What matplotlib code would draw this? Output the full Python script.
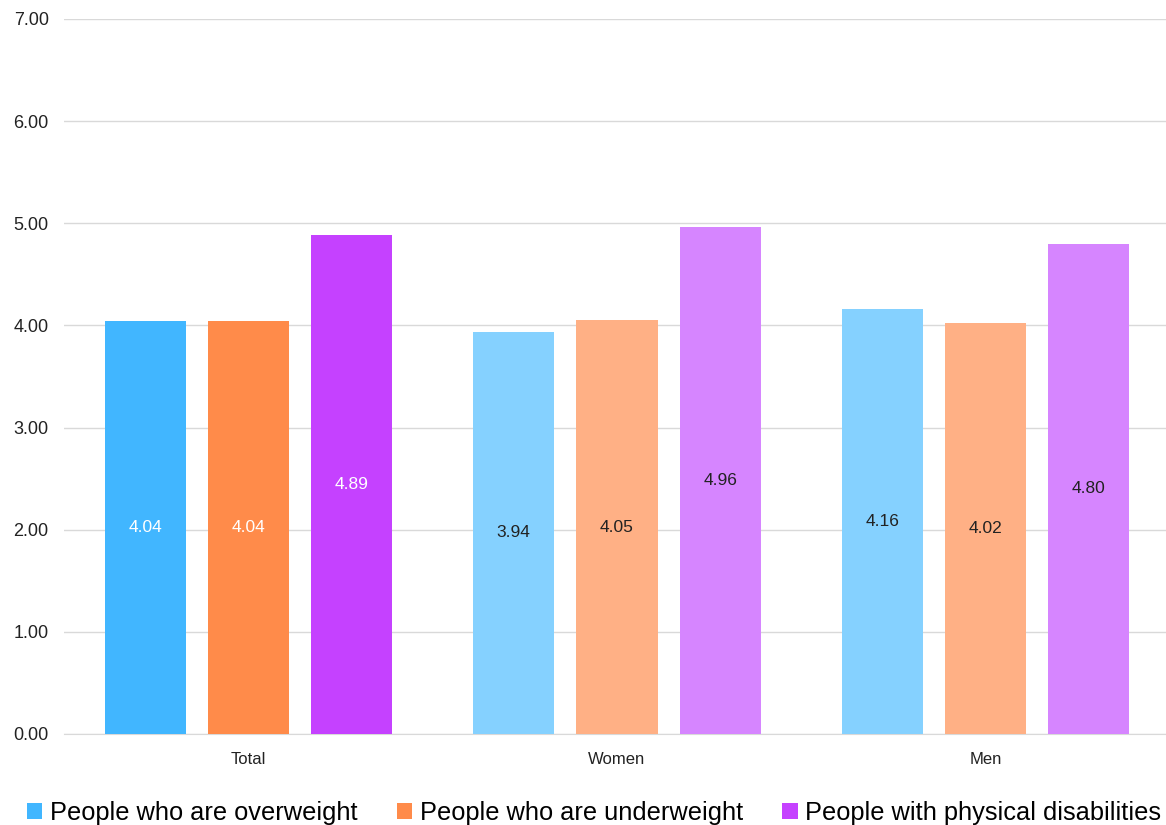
import matplotlib
matplotlib.use("Agg")
import matplotlib.pyplot as plt
import numpy as np
from matplotlib.patches import Patch

categories = ["Total", "Women", "Men"]
series = ["People who are overweight", "People who are underweight", "People with physical disabilities"]
overweight = [4.04, 3.94, 4.16]
underweight = [4.04, 4.05, 4.02]
disabilities = [4.89, 4.96, 4.80]
yticks = [0, 1, 2, 3, 4, 5, 6, 7]

dark_colors = ["#41B6FF", "#FF8B4A", "#C541FF"]
light_colors = ["#85D1FF", "#FFB085", "#D685FF"]

plt.rcParams['font.family'] = ['Liberation Sans', 'DejaVu Sans']

fig = plt.figure(figsize=(11.66, 8.25), dpi=100)
ax = fig.add_axes([64/1166, 91/825, 1106/1166, 715/825])

x = np.arange(len(categories))
step = 0.28
width = 0.22
data = [overweight, underweight, disabilities]
for si, vals in enumerate(data):
    for ci, v in enumerate(vals):
        col = dark_colors[si] if ci == 0 else light_colors[si]
        xpos = x[ci] + (si - 1) * step
        ax.bar(xpos, v, width=width, color=col, zorder=3)
        tcol = "white" if ci == 0 else "#222222"
        ax.text(xpos, v / 2, f"{v:.2f}", ha="center", va="center",
                fontsize=12.5, color=tcol, zorder=4)

ax.set_xlim(-0.5, 2.5)
ax.set_ylim(0, 7)
ax.set_yticks(yticks)
ax.set_yticklabels([f"{t:.2f}" for t in yticks], fontsize=13, color="#222222")
ax.set_xticks(x)
ax.set_xticklabels(categories, fontsize=12, color="#222222")
ax.tick_params(axis="both", length=0)
ax.tick_params(axis="y", pad=11)
ax.tick_params(axis="x", pad=13)
ax.grid(axis="y", color="#d9d9d9", linewidth=1, zorder=0)
for s in ["top", "right", "left"]:
    ax.spines[s].set_visible(False)
ax.spines["bottom"].set_color("#d9d9d9")
ax.spines["bottom"].set_zorder(1)

handles = [Patch(facecolor=c, edgecolor="none") for c in dark_colors]
fig.legend(handles, series, loc="lower center", bbox_to_anchor=(0.5095, -0.028),
           ncol=3, frameon=False, fontsize=18.3, handlelength=0.6,
           handleheight=0.6, handletextpad=0.3, columnspacing=1.55)

fig.savefig("out.png", dpi=100, facecolor="white")
